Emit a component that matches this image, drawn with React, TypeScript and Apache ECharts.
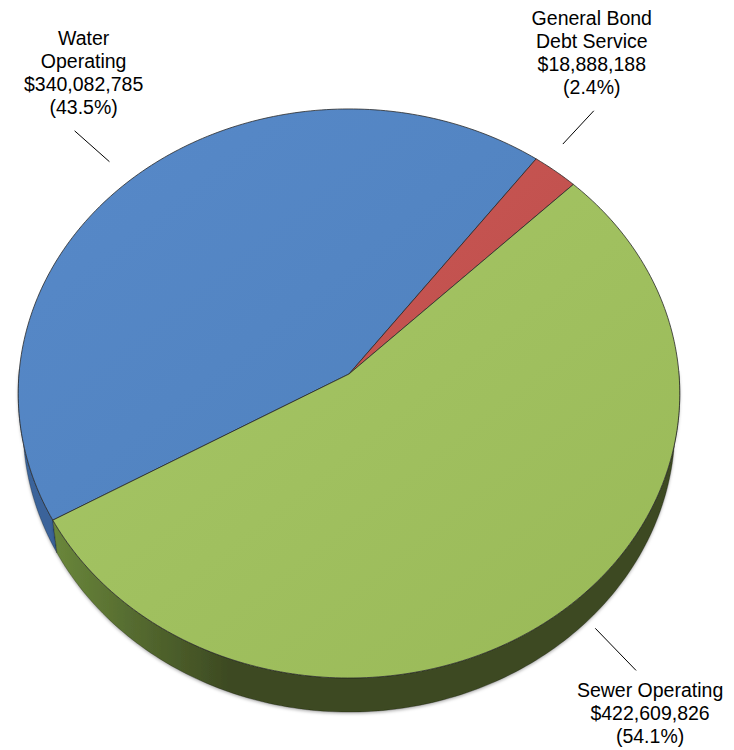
import React, { useEffect, useRef } from 'react';
import * as echarts from 'echarts';

// ---- data ----
const categories = ['Water\nOperating', 'General Bond\nDebt Service', 'Sewer Operating'];
const values = [340082785, 18888188, 422609826];

// ---- styles ----
const topColors = [
  ['#5789c9', '#4f81bd'],
  ['#c95653', '#be4f4c'],
  ['#a7c767', '#99b957'],
];
const sideColors = [
  ['#3f6ca4', '#3a649a'],
  ['#9a3f3d', '#8a3836'],
  ['#6a873b', '#3d4a22'],
];

// ---- projection of the tilted pie (perspective) ----
const CX = 349;
const CY = 374;
const SX = 330;
const SY = 283.2;
const PC = 0.0685;
const DEPTH = 31.7;
const SHRINK = 0.986;
const START_ANGLE = 209.9;

function proj(u: number, v: number): number[] {
  const w = 1 + PC * v;
  return [CX + (SX * u) / w, CY - (SY * v) / w];
}
function projBottom(u: number, v: number): number[] {
  const w = 1 + PC * v;
  return [CX + (SX * u * SHRINK) / w, CY - (SY * v) / w + DEPTH / w];
}
const rad = (d: number) => (d * Math.PI) / 180;

function fmtMoney(v: number) {
  return '$' + v.toLocaleString('en-US');
}

export default function App() {
  const ref = useRef<HTMLDivElement>(null);
  useEffect(() => {
    if (!ref.current) return;
    const chart = echarts.init(ref.current, null, { renderer: 'svg' });
    const total = values.reduce((a, b) => a + b, 0);

    const renderItem = (params: any, api: any) => {
      const i = params.dataIndex;
      const val = api.value(0) as number;
      let before = 0;
      for (let j = 0; j < i; j++) before += values[j];
      const a0 = START_ANGLE - (before / total) * 360;
      const a1 = a0 - (val / total) * 360;
      const n = Math.max(2, Math.ceil(Math.abs(a0 - a1)));

      const topPts: number[][] = [proj(0, 0)];
      const sideTop: number[][] = [];
      const sideBot: number[][] = [];
      for (let k = 0; k <= n; k++) {
        const a = a0 + ((a1 - a0) * k) / n;
        const u = Math.cos(rad(a));
        const v = Math.sin(rad(a));
        topPts.push(proj(u, v));
        if (v < 0.02) {
          sideTop.push(proj(u, v));
          sideBot.push(projBottom(u, v));
        }
      }
      const children: any[] = [];
      if (sideTop.length > 1) {
        children.push({
          type: 'polygon',
          z2: 1,
          shape: { points: sideTop.concat(sideBot.reverse()) },
          style: {
            fill: new echarts.graphic.LinearGradient(0, 0, 1, 0, [
              { offset: 0, color: sideColors[i][0] },
              { offset: 0.28, color: sideColors[i][1] },
              { offset: 1, color: sideColors[i][1] },
            ]),
            stroke: 'rgba(0,0,0,0.45)',
            lineWidth: 0.6,
            shadowBlur: 3,
            shadowColor: 'rgba(0,0,0,0.3)',
            shadowOffsetY: 1.5,
          },
        });
      }
      children.push({
        type: 'polygon',
        z2: 10,
        shape: { points: topPts },
        style: {
          fill: new echarts.graphic.LinearGradient(0, 0, 1, 1, [
            { offset: 0, color: topColors[i][0] },
            { offset: 1, color: topColors[i][1] },
          ]),
          stroke: '#2a2a2a',
          lineWidth: 0.8,
        },
      });

      // leader line + label
      const mid = (a0 + a1) / 2 + 2.5;
      const mu = Math.cos(rad(mid));
      const mv = Math.sin(rad(mid));
      const p1 = proj(mu * 1.1, mv * 1.1);
      const p2 = proj(mu * 1.27, mv * 1.27);
      children.push({
        type: 'line',
        z2: 20,
        shape: { x1: p1[0], y1: p1[1], x2: p2[0], y2: p2[1] },
        style: { stroke: '#000', lineWidth: 1 },
      });
      const pct = ((val / total) * 100).toFixed(1);
      const text = `${categories[i]}\n${fmtMoney(val)}\n(${pct}%)`;
      const above = mv > 0;
      const lx = above ? p2[0] + (mu < 0 ? 9 : -2) : p2[0] + 14;
      const ly = above ? p2[1] - 12 : p2[1] + 8;
      children.push({
        type: 'text',
        z2: 20,
        x: lx,
        y: ly,
        style: {
          text,
          fill: '#000',
          fontSize: 19.5,
          fontFamily: '"Liberation Sans", Arial, sans-serif',
          lineHeight: 23,
          align: 'center',
          verticalAlign: above ? 'bottom' : 'top',
        },
      });
      return { type: 'group', children };
    };

    chart.setOption({
      animation: false,
      backgroundColor: '#ffffff',
      series: [
        {
          type: 'custom',
          coordinateSystem: 'none',
          silent: true,
          renderItem,
          data: values,
        },
      ],
    });
    return () => chart.dispose();
  }, []);
  return (
    <div
      ref={ref}
      style={{ position: 'absolute', left: 0, top: 0, width: 734, height: 750 }}
    />
  );
}
